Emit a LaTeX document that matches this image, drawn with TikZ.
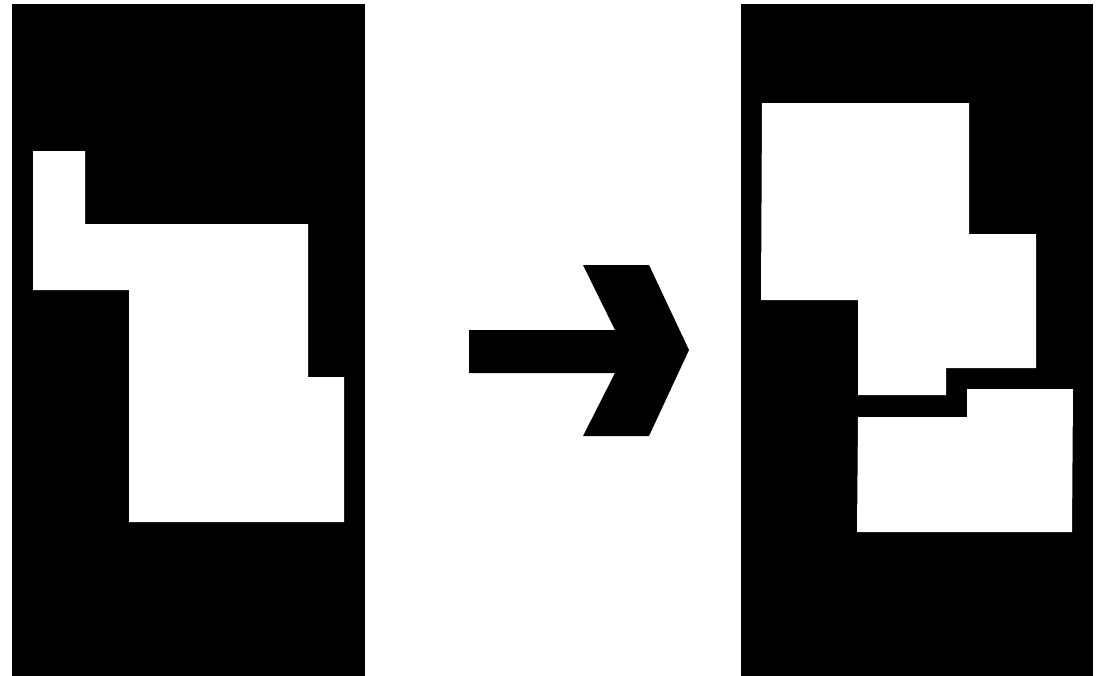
\documentclass[tikz,border=0pt]{standalone}
\begin{document}
\begin{tikzpicture}[x=0.02cm, y=-0.02cm,
    panel/.style={fill=black},
    blob/.style={fill=white},
    bigarrow/.style={fill=black}
  ]
  \useasboundingbox (0,0) rectangle (1102,676);
  % before
  \fill[panel] (12,4) rectangle (365,676);
  \fill[blob] (33,151) -- (85,151) -- (85,224) -- (308,224) -- (308,377)
    -- (344,377) -- (344,522) -- (129,522) -- (129,290) -- (33,290) -- cycle;
  % arrow
  \fill[bigarrow] (469,330) -- (615,330) -- (583,265) -- (649,265) -- (689,350)
    -- (649,436) -- (583,436) -- (615,373) -- (469,373) -- cycle;
  % after
  \fill[panel] (741,4) rectangle (1093,676);
  \fill[blob] (762,103) -- (969,103) -- (969,234) -- (1036,234) -- (1036,368)
    -- (946,368) -- (946,395) -- (858,395) -- (858,300) -- (761,300) -- cycle;
  \fill[blob] (967,389) -- (1073,389) -- (1072,532) -- (857,532) -- (858,417)
    -- (967,417) -- cycle;
\end{tikzpicture}
\end{document}
